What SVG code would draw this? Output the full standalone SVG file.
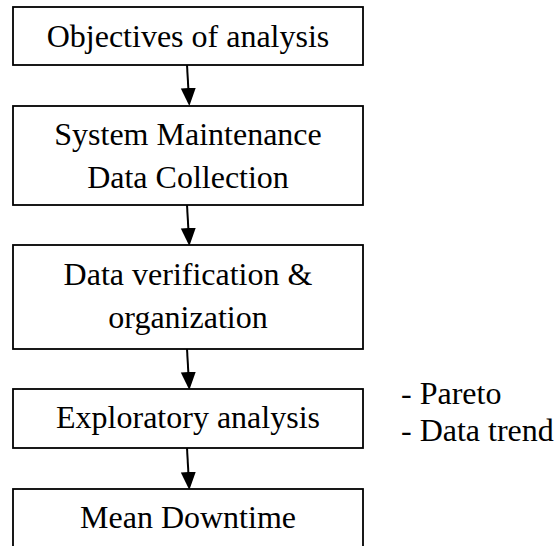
<svg xmlns="http://www.w3.org/2000/svg" width="556" height="546" viewBox="0 0 556 546">
<style>
.box{fill:#fff;stroke:#000;stroke-width:1.8}
.t{font-size:32px;fill:#000}
.c{text-anchor:middle}
.conn{stroke:#000;stroke-width:2;fill:none;marker-end:url(#ah)}
</style>
<defs>
<marker id="ah" markerUnits="userSpaceOnUse" markerWidth="18" markerHeight="16" refX="12" refY="7.5" orient="auto" viewBox="0 0 18 15">
<path d="M0,0 L18,7.5 L0,15 z" fill="#000"/>
</marker>
</defs>
<rect width="556" height="546" fill="#fff"/>
<g id="connectors">
<line class="conn" x1="187" y1="65" x2="189" y2="100"/>
<line class="conn" x1="187" y1="205" x2="189" y2="240"/>
<line class="conn" x1="187" y1="349" x2="189" y2="384"/>
<line class="conn" x1="187" y1="448" x2="189" y2="484"/>
</g>
<g font-family="Liberation Serif, Times New Roman, serif">
<g id="n1">
<rect class="box" x="13" y="7" width="350" height="58"/>
<text class="t c" x="188" y="47">Objectives of analysis</text>
</g>
<g id="n2">
<rect class="box" x="13" y="106" width="350" height="99"/>
<text class="t c" x="188" y="145">System Maintenance</text>
<text class="t c" x="188" y="188">Data Collection</text>
</g>
<g id="n3">
<rect class="box" x="13" y="245" width="350" height="104"/>
<text class="t c" x="188" y="285">Data verification &amp;</text>
<text class="t c" x="188" y="328">organization</text>
</g>
<g id="n4">
<rect class="box" x="13" y="389" width="350" height="59"/>
<text class="t c" x="188" y="428">Exploratory analysis</text>
</g>
<g id="n5">
<rect class="box" x="13" y="489" width="350" height="70"/>
<text class="t c" x="188" y="528">Mean Downtime</text>
</g>
<g id="notes">
<text class="t" x="401" y="404">- Pareto</text>
<text class="t" x="401" y="441">- Data trend</text>
</g>
</g>
</svg>
